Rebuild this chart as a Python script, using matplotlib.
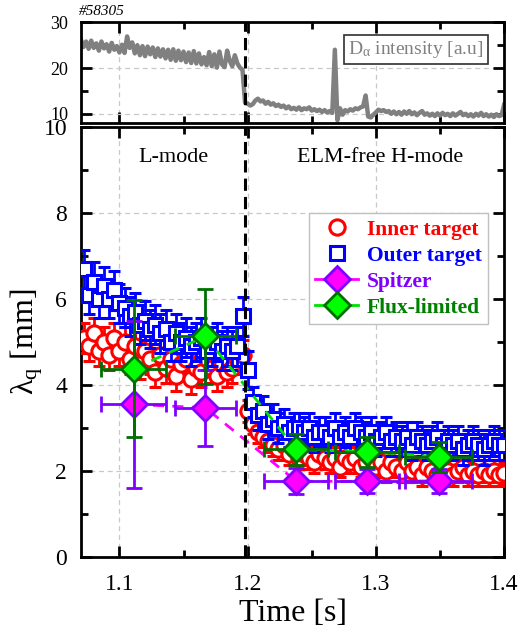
import numpy as np
import matplotlib
matplotlib.use("Agg")
import matplotlib.pyplot as plt
from matplotlib.lines import Line2D
from matplotlib.ticker import MultipleLocator

plt.rcParams["font.family"] = ["Liberation Serif", "DejaVu Serif"]
plt.rcParams["mathtext.fontset"] = "custom"
plt.rcParams["mathtext.rm"] = "Liberation Serif"
plt.rcParams["mathtext.it"] = "Liberation Serif:italic"

# D-alpha trace, 2 ms sampling from 1.070 s to 1.400 s
da = [
    26.2, 24.6, 25.8, 24.2,
    26.0, 24.4, 25.4, 23.8,
    25.8, 24.3, 25.2, 23.6,
    25.5, 24.0, 24.8, 23.4,
    25.1, 23.3, 26.9, 24.4,
    25.6, 23.2, 25.0, 22.8,
    24.8, 22.6, 24.7, 23.0,
    24.5, 22.4, 24.3, 22.5,
    24.1, 22.1, 24.0, 21.8,
    24.1, 21.6, 23.8, 21.7,
    23.6, 21.3, 23.4, 21.1,
    23.7, 21.0, 23.2, 20.8,
    22.4, 20.6, 23.5, 20.4,
    23.0, 20.1, 23.6, 20.8,
    20.2, 23.8, 21.6, 20.4,
    22.8, 21.0, 20.1, 19.6,
    12.4, 12.2, 11.8, 12.1,
    12.9, 13.3, 12.7, 12.9, 12.2,
    12.6, 12.0, 12.3, 11.7, 12.0,
    11.5, 11.8, 11.2, 11.6, 11.0,
    11.3, 10.9, 11.4, 10.8, 11.2,
    11.0, 11.4, 10.7, 11.0, 10.6,
    10.9, 10.4, 10.8, 10.3, 10.6,
    10.2, 24.0, 8.6, 11.2, 9.8,
    10.8, 10.5, 11.0, 10.7, 11.2,
    11.0, 11.4, 11.6, 14.0, 9.4,
    9.2, 9.8, 10.3, 10.9, 10.6,
    10.8, 10.4, 10.6, 10.0, 10.5,
    9.9, 10.4, 9.8, 10.5, 10.0,
    10.6, 9.9, 10.3, 9.7, 10.2,
    10.6, 9.8, 10.1, 9.6, 10.0,
    9.5, 10.1, 9.6, 10.2, 9.7,
    10.0, 9.5, 10.1, 9.6, 10.0,
    10.4, 9.7, 10.0, 9.5, 9.9,
    9.4, 10.0, 9.6, 10.2, 9.5,
    9.9, 9.4, 9.8, 9.3, 9.9,
    9.5, 9.7, 12.0,
]
da_t = np.linspace(1.070, 1.400, len(da))

# heat flux width, 4 ms sampling from 1.072 s to 1.400 s
inner = [
    5.1, 4.9, 5.2, 4.8, 5.0, 4.7, 5.1, 4.8, 5.0, 4.6,
    4.9, 4.5, 4.8, 4.6, 4.3, 4.7, 4.4, 4.6, 4.2, 4.5,
    4.6, 4.15, 4.4, 4.3, 4.6, 4.4, 4.2, 4.5, 4.3, 4.4,
    4.6, 4.7, 3.4, 3.1, 2.9, 2.8, 2.7, 2.6, 2.5, 2.6,
    2.4, 2.5, 2.3, 2.4, 2.3, 2.2, 2.4, 2.3, 2.2, 2.3,
    2.1, 2.3, 2.2, 2.3, 2.1, 2.2, 2.3, 2.1, 2.2, 2.0,
    2.2, 2.1, 2.0, 2.2, 2.0, 2.1, 1.9, 2.1, 2.0, 1.9,
    2.1, 2.0, 1.9, 2.0, 2.1, 1.9, 2.0, 1.9, 2.0, 1.9,
    2.0, 1.9, 1.95,
]
inner_err = [0.35] * 32 + [0.25] * 51
outer = [
    6.7, 6.1, 6.4, 6.0, 6.3, 6.0, 6.2, 5.9, 5.8, 5.6,
    5.7, 5.4, 5.5, 5.3, 5.4, 5.2, 5.3, 5.0, 5.2, 5.0,
    5.1, 4.9, 5.0, 5.1, 4.8, 4.9, 5.0, 4.8, 4.9, 4.8,
    4.9, 5.6, 4.35,
    3.6, 3.3, 3.4, 3.1, 3.2, 3.0, 3.1, 2.9, 3.0, 3.0,
    2.9, 3.0, 2.8, 2.9, 2.9, 2.8, 3.0, 2.8, 2.9, 2.8,
    3.0, 2.9, 2.8, 2.9, 2.7, 2.8, 2.9, 2.7, 2.8, 2.7,
    2.8, 2.6, 2.8, 2.7, 2.6, 2.7, 2.8, 2.6, 2.7, 2.6,
    2.7, 2.5, 2.6, 2.7, 2.6, 2.5, 2.6, 2.7, 2.6, 2.6,
]
outer_err = [0.45] * 33 + [0.35] * 50
inner_t = np.linspace(1.072, 1.400, len(inner))
outer_t = np.linspace(1.072, 1.400, len(outer))

model_t = [1.111, 1.167, 1.238, 1.293, 1.349]
model_terr = [0.025, 0.024, 0.025, 0.025, 0.026]
spitzer = [3.55, 3.47, 1.76, 1.76, 1.77]
spitzer_err = [1.95, 0.88, 0.30, 0.28, 0.28]
flux = [4.38, 5.13, 2.50, 2.45, 2.33]
flux_err = [1.60, 1.10, 0.37, 0.35, 0.35]

t_lh = 1.198

fig = plt.figure(figsize=(5.29, 6.37), dpi=100)
ax1 = fig.add_axes([0.153, 0.807, 0.800, 0.158])
ax2 = fig.add_axes([0.153, 0.1256, 0.800, 0.675])

for ax in (ax1, ax2):
    for s in ax.spines.values():
        s.set_linewidth(2)
    ax.tick_params(which="both", direction="in", top=True, right=True, width=2)
    ax.tick_params(which="major", length=8)
    ax.tick_params(which="minor", length=5)
    ax.grid(True, color="#c8c8c8", ls=(0, (4, 3)), lw=0.9)
    ax.set_xlim(1.07, 1.40)
    ax.xaxis.set_major_locator(MultipleLocator(0.1))
    ax.xaxis.set_minor_locator(MultipleLocator(0.05))
    ax.axvline(t_lh, color="black", lw=2.2, ls=(0, (4, 2)), zorder=6)

# top panel
ax1.plot(da_t, da, color="#808080", lw=3.2)
ax1.set_ylim(8, 30)
ax1.yaxis.set_major_locator(MultipleLocator(10))
ax1.yaxis.set_minor_locator(MultipleLocator(5))
ax1.tick_params(labelbottom=False, labelsize=13, pad=9)
ax1.text(0.792, 0.73, r"D$_{\mathrm{α}}$ intensity [a.u]", transform=ax1.transAxes,
         ha="center", va="center", fontsize=14, color="#808080",
         bbox=dict(boxstyle="square,pad=0.2", fc="white", ec="#303030", lw=1.2))
fig.text(0.150, 0.972, "#58305", fontsize=11, style="italic", ha="left", va="bottom")

# main panel
ax2.errorbar(inner_t, inner, yerr=inner_err, fmt="o", ms=11, mfc="white", mec="red",
             mew=2.2, ecolor="red", elinewidth=2, capsize=4.5, capthick=2, zorder=3)
ax2.errorbar(outer_t, outer, yerr=outer_err, fmt="s", ms=10, mfc="white", mec="blue",
             mew=2.2, ecolor="blue", elinewidth=2, capsize=4.5, capthick=2, zorder=4)
ax2.plot(model_t, spitzer, color="magenta", lw=2, ls=(0, (4, 3)), zorder=5)
ax2.plot(model_t, flux, color="#00e000", lw=2, ls=(0, (4, 3)), zorder=5)
ax2.errorbar(model_t, spitzer, xerr=model_terr, yerr=spitzer_err, fmt="D", ms=13,
             mfc="magenta", mec="#8000ff", mew=2, ecolor="#8000ff", elinewidth=2,
             capsize=5.5, capthick=2, zorder=7)
ax2.errorbar(model_t, flux, xerr=model_terr, yerr=flux_err, fmt="D", ms=13,
             mfc="#00ff00", mec="#007000", mew=2, ecolor="#007000", elinewidth=2,
             capsize=5.5, capthick=2, zorder=8)

ax2.set_ylim(0, 10)
ax2.yaxis.set_major_locator(MultipleLocator(2))
ax2.yaxis.set_minor_locator(MultipleLocator(1))
ax2.tick_params(labelsize=17, pad=10)
ax2.tick_params(axis="x", pad=12)
ax2.set_xticks([1.1, 1.2, 1.3, 1.4])
ax2.set_xticklabels(["1.1", "1.2", "1.3", "1.4"])
ax2.set_xlabel("Time [s]", fontsize=23, labelpad=3)
ax2.set_ylabel(r"λ$_{\mathrm{q}}$ [mm]", fontsize=23)
ax2.yaxis.set_label_coords(-0.085, 0.5)

ax2.text(1.142, 9.3, "L-mode", fontsize=16, ha="center", va="center")
ax2.text(1.3035, 9.3, "ELM-free H-mode", fontsize=15.8, ha="center", va="center")

handles = [
    Line2D([], [], ls="none", marker="o", ms=11, mfc="white", mec="red", mew=2.2),
    Line2D([], [], ls="none", marker="s", ms=10, mfc="white", mec="blue", mew=2.2),
    Line2D([], [], color="magenta", lw=2, marker="D", ms=13, mfc="magenta", mec="#8000ff", mew=2),
    Line2D([], [], color="#00e000", lw=2, marker="D", ms=13, mfc="#00ff00", mec="#007000", mew=2),
]
labels = ["Inner target", "Outer target", "Spitzer", "Flux-limited"]
leg = ax2.legend(handles, labels, loc="upper right", bbox_to_anchor=(0.962, 0.80),
                 borderaxespad=0, prop={"weight": "bold", "size": 15.5}, fancybox=False,
                 edgecolor="#c0c0c0", framealpha=1, handlelength=2.0, handletextpad=0.4,
                 labelspacing=0.28, borderpad=0.3)
leg.get_frame().set_linewidth(1)
leg.set_zorder(10)
for txt, c in zip(leg.get_texts(), ["red", "blue", "#8000ff", "#008000"]):
    txt.set_color(c)

fig.savefig("out.png", dpi=100)
